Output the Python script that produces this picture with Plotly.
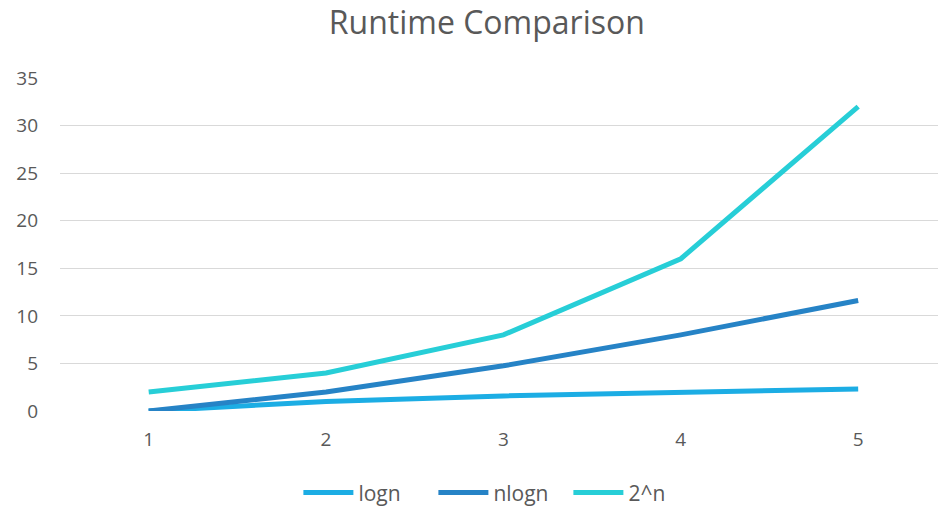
import plotly.graph_objects as go

n_values = [1, 2, 3, 4, 5]
logn = [0, 1, 1.585, 2, 2.32]
nlogn = [0, 2, 4.75, 8, 11.61]
two_n = [2, 4, 8, 16, 32]
y_ticks = [0, 5, 10, 15, 20, 25, 30, 35]

series = [("logn", logn, "#1CADE4"), ("nlogn", nlogn, "#2683C6"), ("2^n", two_n, "#27CED7")]

fig = go.Figure()
for name, vals, col in series:
    fig.add_trace(go.Scatter(x=n_values, y=vals, name=name, mode="lines",
                             line=dict(color=col, width=5)))

font_family = "Open Sans, Noto Sans, sans-serif"
fig.update_layout(
    width=938, height=508,
    margin=dict(l=60, r=0, t=78, b=97),
    paper_bgcolor="white", plot_bgcolor="white",
    title=dict(text="Runtime Comparison", x=0.519, xanchor="center", y=0.955, yanchor="middle",
               font=dict(family=font_family, size=32, color="#595959")),
    font=dict(family=font_family, color="#595959", size=19),
    xaxis=dict(range=[0.5, 5.45], tickvals=n_values, showgrid=False, zeroline=False,
               showline=False, ticks="", ticklabelstandoff=15, automargin=False,
               tickfont=dict(size=19, color="#595959")),
    yaxis=dict(range=[0, 35], tickvals=y_ticks, showgrid=True, gridcolor="#D9D9D9", gridwidth=1.3,
               zeroline=False, ticks="", ticklabelstandoff=21, automargin=False,
               tickfont=dict(size=19, color="#595959")),
    legend=dict(orientation="h", x=0.534, xanchor="center", xref="container",
                y=0.03, yanchor="middle", yref="container",
                font=dict(size=21, color="#595959"), itemwidth=50, tracegroupgap=0,
                entrywidth=70),
    showlegend=True,
)

fig.write_html("out.html", config={"displayModeBar": False},
               post_script="document.body.style.margin='0';document.body.style.overflow='hidden';")
